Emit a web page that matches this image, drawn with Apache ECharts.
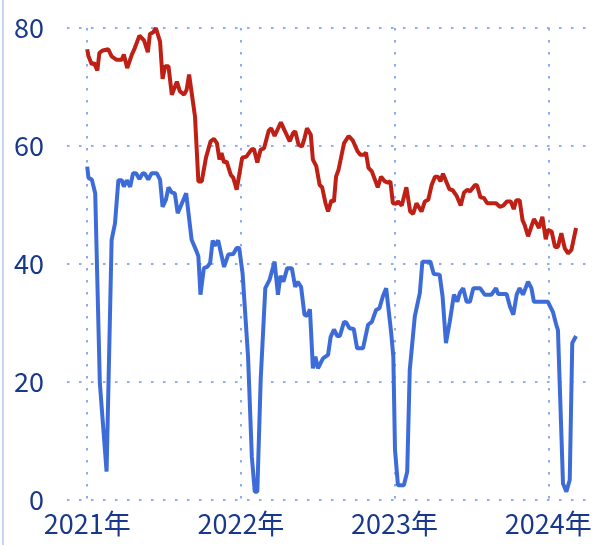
<!DOCTYPE html>
<html>
<head>
<meta charset="utf-8">
<script src="https://cdn.jsdelivr.net/npm/echarts@6/dist/echarts.min.js"></script>
<style>
html,body{margin:0;padding:0;background:#ffffff;}
#chart{width:595px;height:545px;}
</style>
</head>
<body>
<div id="chart"></div>
<script>
// Red series (dates and values)
var redDates = ['2021-01-01','2021-01-04','2021-01-12','2021-01-17','2021-01-25','2021-01-30','2021-02-07','2021-02-20','2021-02-28','2021-03-12','2021-03-24','2021-03-29','2021-04-06','2021-04-17','2021-04-24','2021-05-05','2021-05-16','2021-05-25','2021-05-30','2021-06-07','2021-06-13','2021-06-23','2021-06-29','2021-07-05','2021-07-13','2021-07-21','2021-08-02','2021-08-09','2021-08-19','2021-08-25','2021-08-31','2021-09-14','2021-09-22','2021-09-30','2021-10-10','2021-10-21','2021-10-29','2021-11-05','2021-11-11','2021-11-16','2021-11-22','2021-11-28','2021-12-08','2021-12-14','2021-12-22','2021-12-28',
'2022-01-04','2022-01-14','2022-01-26','2022-02-01','2022-02-09','2022-02-17','2022-02-25','2022-03-08','2022-03-14','2022-03-22','2022-04-06','2022-04-15','2022-04-27','2022-05-05','2022-05-10','2022-05-18','2022-05-26','2022-06-01','2022-06-07','2022-06-16','2022-06-21','2022-06-29','2022-07-07','2022-07-13','2022-07-21','2022-07-27','2022-08-04','2022-08-10','2022-08-15','2022-08-21','2022-09-03','2022-09-14','2022-09-24','2022-10-05','2022-10-12','2022-10-20','2022-10-25','2022-10-31','2022-11-08','2022-11-22','2022-11-30','2022-12-09','2022-12-16','2022-12-22','2022-12-28',
'2023-01-05','2023-01-09','2023-01-18','2023-01-29','2023-02-07','2023-02-14','2023-02-22','2023-03-06','2023-03-14','2023-03-22','2023-03-30','2023-04-07','2023-04-14','2023-04-20','2023-04-26','2023-05-11','2023-05-19','2023-05-28','2023-06-07','2023-06-15','2023-06-23','2023-06-29','2023-07-11','2023-07-16','2023-07-24','2023-08-01','2023-08-09','2023-08-30','2023-09-08','2023-09-16','2023-09-25','2023-10-04','2023-10-11','2023-10-17','2023-10-25','2023-11-01','2023-11-06','2023-11-14','2023-11-28','2023-12-04','2023-12-10','2023-12-18','2023-12-26','2023-12-31',
'2024-01-09','2024-01-17','2024-01-24','2024-02-01','2024-02-09','2024-02-17','2024-02-25','2024-03-07'];
var redValues = [76.4,75.2,73.8,74.1,72.8,75.8,76.2,76.4,75.2,74.6,74.6,75.5,73.2,75.5,76.6,78.7,77.9,75.9,79.0,79.3,80.0,77.7,71.4,73.5,73.5,68.7,70.9,69.3,68.7,69.5,72.1,65.0,54.0,54.0,58.0,60.8,61.2,60.5,57.7,58.8,57.2,57.4,55.1,54.6,52.6,55.1,
58.0,58.2,59.4,59.5,57.2,59.4,59.6,62.6,63.0,61.7,64.0,62.6,60.8,62.2,62.5,60.2,59.9,61.3,63.0,61.9,57.7,56.6,53.4,53.0,50.3,48.9,50.8,50.6,54.8,56.0,60.5,61.7,60.9,59.1,58.5,58.5,58.9,56.3,55.7,53.0,54.8,54.0,53.8,54.0,50.3,
50.2,50.6,49.9,53.0,48.9,48.5,50.3,48.9,50.6,50.9,53.4,54.8,54.8,54.0,55.3,52.7,52.5,51.6,49.9,52.1,52.6,52.3,53.4,53.3,51.3,51.2,50.3,50.3,49.7,49.9,50.6,50.6,49.3,50.8,50.8,47.4,46.6,44.7,47.6,46.9,46.1,48.0,44.2,45.8,
45.5,42.9,42.9,45.2,42.7,41.8,42.4,46.1];

// Blue series
var blueDates = ['2021-01-01','2021-01-04','2021-01-12','2021-01-20','2021-01-31','2021-02-16','2021-02-28','2021-03-08','2021-03-16','2021-03-24','2021-03-29','2021-04-05','2021-04-13','2021-04-20','2021-04-27','2021-05-05','2021-05-13','2021-05-18','2021-05-26','2021-06-03','2021-06-15','2021-06-23','2021-06-29','2021-07-07','2021-07-13','2021-07-21','2021-07-28','2021-08-04','2021-08-24','2021-09-06','2021-09-18','2021-09-22','2021-09-27','2021-10-05','2021-10-13','2021-10-20','2021-10-26','2021-10-31','2021-11-08','2021-11-22','2021-12-02','2021-12-14','2021-12-22','2021-12-28',
'2022-01-05','2022-01-18','2022-01-27','2022-02-03','2022-02-09','2022-02-17','2022-02-28','2022-03-10','2022-03-22','2022-03-30','2022-04-05','2022-04-12','2022-04-21','2022-05-02','2022-05-10','2022-05-16','2022-05-24','2022-06-01','2022-06-07','2022-06-14','2022-06-21','2022-06-27','2022-07-03','2022-07-15','2022-07-27','2022-08-02','2022-08-10','2022-08-18','2022-08-24','2022-09-03','2022-09-08','2022-09-16','2022-09-26','2022-10-04','2022-10-18','2022-10-30','2022-11-08','2022-11-18','2022-11-26','2022-12-04','2022-12-12','2022-12-24','2022-12-29',
'2023-01-02','2023-01-09','2023-01-23','2023-01-31','2023-02-06','2023-02-18','2023-03-02','2023-03-08','2023-03-27','2023-04-04','2023-04-18','2023-04-25','2023-05-03','2023-05-12','2023-05-22','2023-05-30','2023-06-05','2023-06-13','2023-06-21','2023-06-29','2023-07-07','2023-07-23','2023-08-03','2023-08-19','2023-08-30','2023-09-04','2023-09-24','2023-10-02','2023-10-10','2023-10-18','2023-10-25','2023-11-02','2023-11-14','2023-11-22','2023-11-28','2023-12-31',
'2024-01-12','2024-01-20','2024-01-24','2024-02-05','2024-02-13','2024-02-21','2024-02-27','2024-03-07'];
var blueValues = [56.5,54.6,54.3,52.0,19.8,4.8,44.1,46.9,54.2,54.2,53.1,54.2,53.1,55.4,55.4,54.4,55.4,55.3,54.3,55.4,55.4,54.3,49.7,50.9,53.0,52.1,52.0,48.6,52.0,44.1,42.1,41.3,34.8,39.3,39.5,40.2,44.0,43.1,44.0,39.5,41.6,41.7,42.7,42.7,
38.4,24.3,7.3,1.4,1.4,20.4,35.9,37.3,40.4,34.8,38.0,37.0,39.3,39.3,36.1,37.0,36.1,31.4,31.2,32.3,22.3,24.3,22.3,24.0,24.6,27.6,28.9,27.8,27.8,30.2,30.1,29.1,29.0,25.7,25.7,29.7,30.2,32.2,32.5,34.5,35.9,28.3,24.3,
8.5,2.5,2.5,4.8,22.0,31.1,35.1,40.4,40.4,38.3,38.2,34.5,26.6,30.2,34.8,33.6,35.1,35.9,33.6,33.6,35.9,35.9,34.8,34.8,35.9,34.9,34.9,32.8,31.4,34.8,35.9,34.8,37.0,35.9,33.6,33.6,
31.9,29.7,28.8,2.8,1.4,3.4,26.6,27.8];

var yTicks = [0, 20, 40, 60, 80];
var yearSuffix = '年';

function pairs(d, v) { return d.map(function (x, i) { return [x, v[i]]; }); }

var FONT = '"Noto Sans CJK SC", "Noto Sans", sans-serif';
var LABEL_COLOR = '#17388c';
var GRID_DOT = { type: [2.5, 9.5], color: '#8eaaf0', width: 2 };

var chart = echarts.init(document.getElementById('chart'), null, { renderer: 'canvas' });
chart.setOption({
  animation: false,
  backgroundColor: '#ffffff',
  grid: { left: 67, right: 0, top: 28, bottom: 45, containLabel: false },
  xAxis: {
    type: 'time',
    min: '2020-11-14',
    max: '2024-04-21',
    minInterval: 365 * 86400000,
    axisLine: { show: false },
    axisTick: { show: false },
    axisLabel: {
      showMinLabel: false,
      showMaxLabel: false,
      fontSize: 27,
      fontFamily: FONT,
      color: LABEL_COLOR,
      margin: 10,
      formatter: function (v) { return new Date(v).getFullYear() + yearSuffix; }
    },
    splitLine: { show: true, showMinLine: false, showMaxLine: false, lineStyle: GRID_DOT }
  },
  yAxis: {
    type: 'value',
    min: yTicks[0],
    max: yTicks[yTicks.length - 1],
    interval: yTicks[1] - yTicks[0],
    axisLine: { show: false },
    axisTick: { show: false },
    axisLabel: { fontSize: 27, fontFamily: FONT, color: LABEL_COLOR, margin: 23 },
    splitLine: { show: true, lineStyle: GRID_DOT }
  },
  graphic: [{
    type: 'line',
    shape: { x1: 3, y1: 0, x2: 3, y2: 545 },
    style: { stroke: '#b3c5ee', lineWidth: 1.5 },
    silent: true
  }],
  series: [
    {
      type: 'line', data: pairs(blueDates, blueValues), showSymbol: false, symbol: 'none',
      lineStyle: { color: '#3d6cd8', width: 4 }, itemStyle: { color: '#3d6cd8' }
    },
    {
      type: 'line', data: pairs(redDates, redValues), showSymbol: false, symbol: 'none',
      lineStyle: { color: '#bf2016', width: 4 }, itemStyle: { color: '#bf2016' }
    }
  ]
});
</script>
</body>
</html>
